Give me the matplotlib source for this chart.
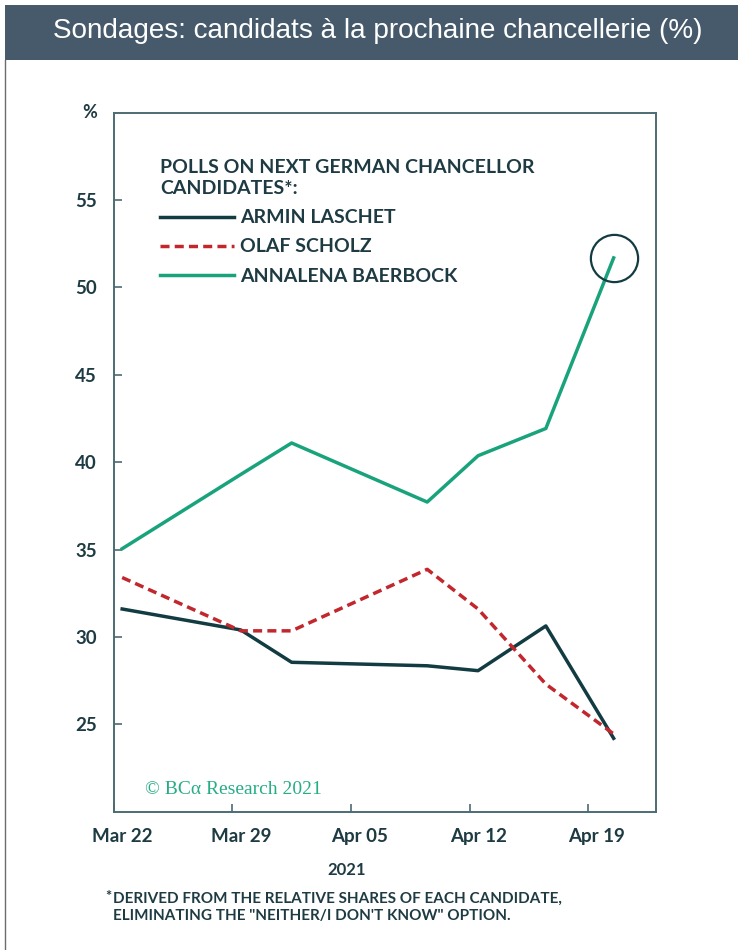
import matplotlib.pyplot as plt  # wykresy
import matplotlib.dates as mdates  # formatowanie dat na osi X
import matplotlib.transforms as mtransforms  # przesunięcie etykiet osi X
import pandas as pd  # daty
from matplotlib.patches import Rectangle  # pasek tytułu
from matplotlib.lines import Line2D  # lewa ramka

# dane
daty = ["2021-03-22", "2021-03-29", "2021-04-01", "2021-04-09", "2021-04-12", "2021-04-16", "2021-04-20"]
laschet = [31.6, 30.4, 28.55, 28.35, 28.07, 30.63, 24.2]
scholz = [33.4, 30.35, 30.35, 33.87, 31.6, 27.3, 24.45]
baerbock = [35.05, 39.3, 41.1, 37.72, 40.37, 41.93, 51.69]
nazwy = ["ARMIN LASCHET", "OLAF SCHOLZ", "ANNALENA BAERBOCK"]
tick_daty = ["2021-03-22", "2021-03-29", "2021-04-05", "2021-04-12", "2021-04-19"]
y_ticks = [25, 30, 35, 40, 45, 50, 55]

C_LASCHET = "#123c42"
C_SCHOLZ = "#c1272d"
C_BAERBOCK = "#19a37c"
C_SPINE = "#4d6b73"
C_TEXT = "#1e3b43"
C_BANNER = "#465a6b"
FONT = "Lato"

x = pd.to_datetime(daty) + pd.Timedelta(hours=12)  # punkty w połowie dnia

fig = plt.figure(figsize=(7.38, 9.5), dpi=100)

# pasek z tytułem
fig.patches.append(Rectangle((5 / 738, 1 - 60 / 950), 1, 55 / 950, transform=fig.transFigure,
                             facecolor=C_BANNER, edgecolor="none"))
fig.text(0.512, 1 - 31 / 950, "Sondages: candidats à la prochaine chancellerie (%)",
         ha="center", va="center", color="white", fontsize=20.1, family="Liberation Sans")
fig.lines.append(Line2D([5 / 738, 5 / 738], [0, 1 - 60 / 950], transform=fig.transFigure,
                        color="#6b6b6b", lw=1))

ax = fig.add_axes([113.7 / 738, 1 - 811.7 / 950, 542.3 / 738, 699 / 950])

ax.plot(x, laschet, color=C_LASCHET, lw=2.5, label=nazwy[0])
ax.plot(x, scholz, color=C_SCHOLZ, lw=2.5, dashes=(2.6, 1.5), label=nazwy[1])
ax.plot(x, baerbock, color=C_BAERBOCK, lw=2.5, label=nazwy[2])
ax.plot(x[-1:], baerbock[-1:], marker="o", markersize=34, mfc="none", mec=C_LASCHET, mew=1.6, ls="none")

ax.set_xlim(pd.Timestamp("2021-03-22"), pd.Timestamp("2021-04-23"))
ax.set_ylim(20, 60)
ax.set_xticks(pd.to_datetime(tick_daty))
ax.xaxis.set_major_formatter(mdates.DateFormatter("%b %d"))
ax.set_yticks(y_ticks)

for s in ax.spines.values():
    s.set_color(C_SPINE)
    s.set_linewidth(1.4)

ax.tick_params(direction="in", length=6, width=1.2, color=C_SPINE, labelcolor=C_TEXT)
ax.tick_params(axis="x", pad=12)
ax.tick_params(axis="y", pad=12)
for lab in ax.get_xticklabels() + ax.get_yticklabels():
    lab.set_family(FONT)
    lab.set_weight("bold")
    lab.set_fontsize(13.5)

offset = mtransforms.ScaledTranslation(8.5 / 100, 0, fig.dpi_scale_trans)
for t in ax.xaxis.get_major_ticks():
    t.label1.set_transform(t.label1.get_transform() + offset)

ax.text(-0.045, 1.0, "%", transform=ax.transAxes, ha="center", va="center",
        color=C_TEXT, fontsize=13, family=FONT, weight="bold")

leg = ax.legend(title="POLLS ON NEXT GERMAN CHANCELLOR\nCANDIDATES*:", loc="upper left",
                bbox_to_anchor=(0.085, 0.9335), frameon=False, alignment="left",
                prop={"family": FONT, "weight": "bold", "size": 14},
                title_fontproperties={"family": FONT, "weight": "bold", "size": 14},
                handlelength=3.8, handletextpad=0.35, labelspacing=0.62,
                borderpad=0, borderaxespad=0, labelcolor=C_TEXT)
leg.get_title().set_color(C_TEXT)
leg.get_title().set_linespacing(1.3)

ax.text(0.058, 0.032, "© BCα Research 2021", transform=ax.transAxes, ha="left", va="center",
        color="#27ad86", fontsize=14, family="Liberation Serif")

fig.text(347 / 738, 1 - 870 / 950, "2021", ha="center", va="center", color=C_TEXT,
         fontsize=12, family=FONT, weight="bold")

fig.text(105 / 738, 1 - 897 / 950, "*", ha="left", va="center", color=C_TEXT,
         fontsize=10.5, family=FONT, weight="bold")
fig.text(113 / 738, 1 - 899 / 950, 'DERIVED FROM THE RELATIVE SHARES OF EACH CANDIDATE,',
         ha="left", va="center", color=C_TEXT, fontsize=11, family=FONT, weight="bold")
fig.text(113 / 738, 1 - 916 / 950, 'ELIMINATING THE "NEITHER/I DON\'T KNOW" OPTION.',
         ha="left", va="center", color=C_TEXT, fontsize=11, family=FONT, weight="bold")

fig.savefig("out.png", dpi=100)
